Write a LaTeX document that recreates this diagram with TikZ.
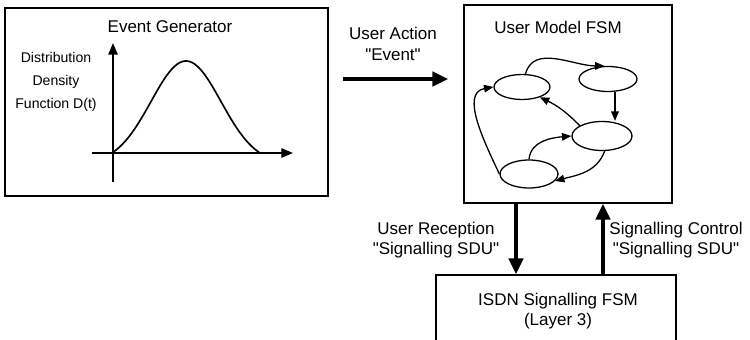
\documentclass[tikz,border=0pt]{standalone}
\usepackage{fontspec}
\setmainfont{Liberation Sans}[Ligatures=TeXOff]
\usepackage{tikz}
\usetikzlibrary{positioning, arrows.meta, shapes.geometric}

\begin{document}
\begin{tikzpicture}
        [
        x=0.03cm, y=0.03cm,
        box/.style = {draw, line width=1.3pt, inner sep=0pt},
        lbl/.style = {align=center, font=\fontsize{14.5}{17.5}\selectfont},
        state/.style = {draw, ellipse, line width=1.1pt, inner sep=0pt},
        bigarrow/.style = {line width=4.2pt, -{Triangle[length=13.5pt, width=12pt]}},
        axis/.style = {line width=1.4pt, -{Triangle[length=10pt, width=8pt]}},
        fsmarrow/.style = {line width=1.1pt, -{Triangle[length=8pt, width=6.5pt]}}
        ]
    \useasboundingbox (0,0) rectangle (750,-340);

    % boxes
    \node[box, minimum width=9.69cm, minimum height=5.64cm] (gen) at (166.5,-102) {};
    \node[box, minimum width=6.24cm, minimum height=5.94cm] (fsm) at (568,-104) {};
    \node[box, minimum width=7.2cm, minimum height=2.55cm] (isdn) at (556,-317.5) {};

    \node[lbl] (gentitle) at (170,-27) {Event Generator};
    \node[lbl] (fsmtitle) at (558,-27) {User Model FSM};
    \node[lbl] (isdnlbl) at (558,-311) {ISDN Signalling FSM\\(Layer 3)};
    \node[lbl, font=\fontsize{12}{19.5}\selectfont] (ddf) at (56,-82) {Distribution\\Density\\Function D(t)};

    % distribution
    \coordinate (yb) at (113,-182);
    \coordinate (yt) at (113,-43);
    \coordinate (xl) at (92,-153);
    \coordinate (xr) at (293,-153);
    \draw[axis] (yb) -- (yt);
    \draw[axis] (xl) -- (xr);
    \draw[line width=1.4pt] plot[domain=112:260, samples=60, smooth]
        (\x, {-153 + 92*(exp(-((\x-186)/35)^2/2) - 0.107)/0.893});

    % states
    \node[state, minimum width=1.68cm, minimum height=0.75cm] (s1) at (522,-87) {};
    \node[state, minimum width=1.74cm, minimum height=0.75cm] (s2) at (608,-79) {};
    \node[state, minimum width=1.8cm, minimum height=0.87cm] (s3) at (602,-136) {};
    \node[state, minimum width=1.74cm, minimum height=0.84cm] (s4) at (529,-174) {};

    \coordinate (sx) at (615,0);
    \draw[fsmarrow] (s1.75) to[out=75, in=180] (s2.105);
    \draw[fsmarrow] (s2.south -| sx) -- (s3.north -| sx);
    \draw[fsmarrow] (s3.155) to[bend right=10] (s1.-30);
    \draw[fsmarrow] (s4.north) to[out=85, in=185] (s3.west);
    \draw[fsmarrow] (s3.-80) to[out=-110, in=15] (s4.-15);
    \draw[fsmarrow] (s4.west) to[out=115, in=190] (s1.west);

    % interfaces
    \coordinate (ay) at (0,-79);
    \coordinate (dx) at (516,0);
    \coordinate (ux) at (603,0);
    \draw[bigarrow, shorten <=0.42cm, shorten >=0.45cm] (gen.east |- ay) -- (fsm.west |- ay);
    \draw[bigarrow] (fsm.south -| dx) -- (isdn.north -| dx);
    \draw[bigarrow] (isdn.north -| ux) -- (fsm.south -| ux);

    \node[lbl] (action) at (393,-44) {User Action\\"Event"};
    \node[lbl] (recept) at (436,-240) {User Reception\\"Signalling SDU"};
    \node[lbl] (control) at (676,-240) {Signalling Control\\"Signalling SDU"};
    \end{tikzpicture}
\end{document}
